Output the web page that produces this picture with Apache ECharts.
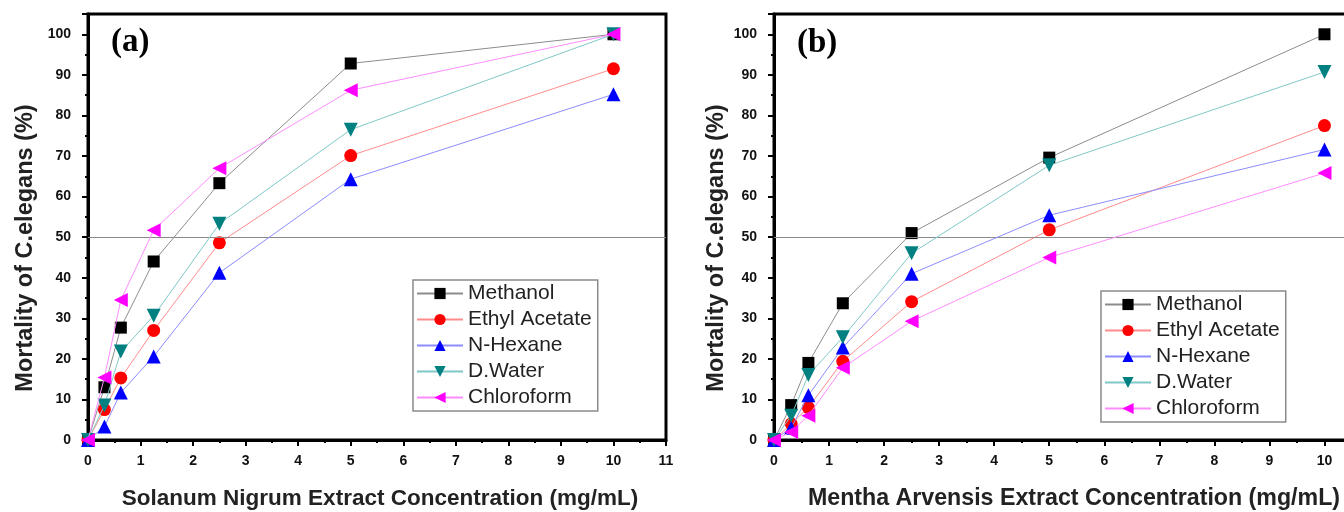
<!DOCTYPE html>
<html lang="en">
<head>
    <meta charset="UTF-8">
    <title>Mortality of C.elegans</title>
    <style>
        html, body { margin: 0; padding: 0; background: #fff; }
        #chart { width: 1344px; height: 512px; }
    </style>
</head>
<body>
    <div id="chart"></div>
    <script src="https://cdn.jsdelivr.net/npm/echarts@6/dist/echarts.min.js"></script>
    <script>
        // concentrations (mg/mL)
        var conc = [0, 0.3125, 0.625, 1.25, 2.5, 5, 10];
        var names = ['Methanol', 'Ethyl Acetate', 'N-Hexane', 'D.Water', 'Chloroform'];

        // (a) Solanum Nigrum
        var aMethanol = [0, 13, 27.7, 44, 63.3, 92.8, 100];
        var aEthyl    = [0, 7.5, 15.3, 27, 48.6, 70.1, 91.5];
        var aHexane   = [0, 3.3, 11.7, 20.6, 41.2, 64.3, 85.2];
        var aWater    = [0, 8.5, 21.8, 30.6, 53.3, 76.5, 100];
        var aChloro   = [0, 15.4, 34.5, 51.7, 67, 86.2, 100];

        // (b) Mentha Arvensis
        var bMethanol = [0, 8.6, 19, 33.7, 51, 69.6, 100];
        var bEthyl    = [0, 4, 8, 19.4, 34.1, 51.8, 77.5];
        var bHexane   = [0, 3, 11, 22.8, 41, 55.4, 71.6];
        var bWater    = [0, 6, 16, 25.3, 46, 67.7, 90.7];
        var bChloro   = [0, 2, 6, 17.8, 29.3, 45, 65.8];

        var refLine = 50;

        // marker / line styles per solvent
        var styles = [
            { symbol: 'rect',     rotate: 0,   size: 12, mark: '#000000', line: '#8c8c8c' },
            { symbol: 'circle',   rotate: 0,   size: 13, mark: '#ff0000', line: '#ff8c8c' },
            { symbol: 'triangle', rotate: 0,   size: 14, mark: '#0000ff', line: '#8c8cff' },
            { symbol: 'triangle', rotate: 180, size: 14, mark: '#008080', line: '#80c8c8' },
            { symbol: 'triangle', rotate: 90,  size: 14, mark: '#ff00ff', line: '#ff8cff' }
        ];

        function pairs(ys) {
            return conc.map(function (x, i) { return [x, ys[i]]; });
        }

        function makeSeries(idx, sets) {
            return sets.map(function (ys, k) {
                var st = styles[k];
                var s = {
                    name: names[k],
                    type: 'line',
                    xAxisIndex: idx,
                    yAxisIndex: idx,
                    data: pairs(ys),
                    symbol: st.symbol,
                    symbolRotate: st.rotate,
                    symbolSize: st.size,
                    showAllSymbol: true,
                    lineStyle: { color: st.line, width: 1 },
                    itemStyle: { color: st.mark },
                    z: 3 + k
                };
                if (k === 0) {
                    s.markLine = {
                        silent: true,
                        symbol: ['none', 'none'],
                        label: { show: false },
                        lineStyle: { color: '#8a8a8a', width: 1.2, type: 'solid' },
                        data: [{ yAxis: refLine }]
                    };
                }
                return s;
            });
        }

        var fontSans = '"Liberation Sans", Arial, sans-serif';

        function xAxisCfg(idx, max, title, size, pad) {
            return {
                type: 'value', gridIndex: idx, min: 0, max: max, interval: 1,
                name: title, nameLocation: 'middle', nameGap: 47,
                nameTextStyle: { fontFamily: fontSans, fontWeight: 'bold', fontSize: size, color: '#222', padding: pad },
                axisLine: { show: true, lineStyle: { color: '#000', width: 3 } },
                axisTick: { show: true, inside: false, length: 6, lineStyle: { color: '#000', width: 2 } },
                minorTick: { show: true, splitNumber: 2, length: 3, lineStyle: { color: '#000', width: 2 } },
                splitLine: { show: false },
                axisLabel: { fontFamily: fontSans, fontWeight: 'bold', fontSize: 14, color: '#111', margin: 14, showMaxLabel: max === 11 }
            };
        }

        function yAxisCfg(idx, gap) {
            return {
                type: 'value', gridIndex: idx, min: 0, max: 105, interval: 10,
                name: 'Mortality of C.elegans (%)', nameLocation: 'middle', nameGap: gap, nameRotate: 90,
                // right padding pushes the rotated title down the axis, as in the reference
                nameTextStyle: { fontFamily: fontSans, fontWeight: 'bold', fontSize: 23.5, color: '#222', padding: [0, 42, 0, 0] },
                axisLine: { show: true, lineStyle: { color: '#000', width: 3 } },
                axisTick: { show: true, inside: false, length: 6, lineStyle: { color: '#000', width: 2 } },
                minorTick: { show: true, splitNumber: 2, length: 3, lineStyle: { color: '#000', width: 2 } },
                splitLine: { show: false },
                axisLabel: { fontFamily: fontSans, fontWeight: 'bold', fontSize: 14, color: '#111', margin: 17, showMaxLabel: false }
            };
        }

        function legendCfg(left, top) {
            return {
                data: names, orient: 'vertical', left: left, top: top,
                itemWidth: 46, itemHeight: 14, itemGap: 5,
                padding: [3, 6, 3, 3],
                borderColor: '#8a8a8a', borderWidth: 1.5, borderRadius: 0,
                backgroundColor: '#fff',
                textStyle: { fontFamily: fontSans, fontSize: 21, color: '#222', lineHeight: 21 }
            };
        }

        var chart = echarts.init(document.getElementById('chart'), null, { renderer: 'canvas' });

        chart.setOption({
            backgroundColor: '#fff',
            animation: false,
            grid: [
                { left: 88, top: 14, width: 578, height: 426, outerBoundsMode: 'none', show: true, borderColor: '#000', borderWidth: 3, backgroundColor: 'transparent' },
                { left: 774, top: 14, width: 578, height: 426, outerBoundsMode: 'none', show: true, borderColor: '#000', borderWidth: 3, backgroundColor: 'transparent' }
            ],
            xAxis: [
                xAxisCfg(0, 11, 'Solanum Nigrum Extract Concentration (mg/mL)', 22.5, [0, 0, 0, 6]),
                xAxisCfg(1, 10.5, 'Mentha Arvensis Extract Concentration (mg/mL)', 23.2, [0, 0, 0, 22])
            ],
            yAxis: [yAxisCfg(0, 50), yAxisCfg(1, 45)],
            legend: [legendCfg(413, 280), legendCfg(1101, 291)],
            graphic: [
                { type: 'text', left: 111, top: 26, style: { text: '(a)', font: 'bold 33px "Liberation Serif", "Times New Roman", serif', fill: '#000' } },
                { type: 'text', left: 797, top: 27, style: { text: '(b)', font: 'bold 33px "Liberation Serif", "Times New Roman", serif', fill: '#000' } }
            ],
            series: makeSeries(0, [aMethanol, aEthyl, aHexane, aWater, aChloro])
                .concat(makeSeries(1, [bMethanol, bEthyl, bHexane, bWater, bChloro]))
        });
    </script>
</body>
</html>
